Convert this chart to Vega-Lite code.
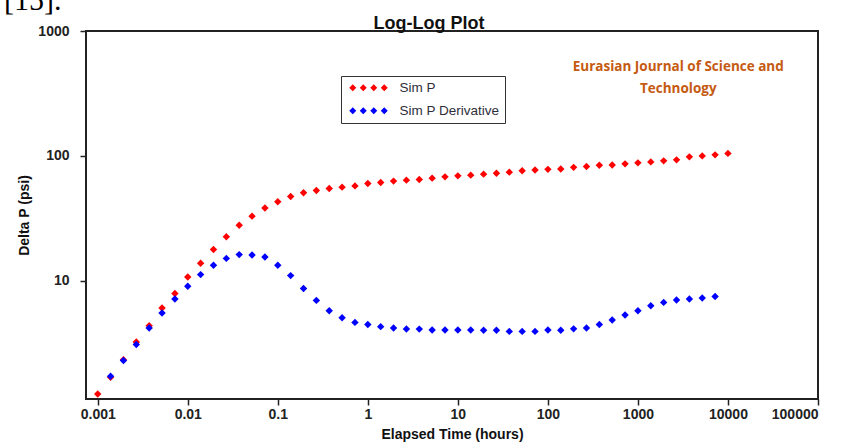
{
  "$schema": "https://vega.github.io/schema/vega-lite/v6.json",
  "width": 732,
  "height": 368,
  "autosize": {"type": "none"},
  "padding": {"left": 86, "top": 31, "right": 25, "bottom": 44},
  "background": "white",
  "title": {
    "text": "Log-Log Plot",
    "frame": "group",
    "anchor": "middle",
    "dx": -23,
    "dy": 65,
    "offset": 4,
    "baseline": "alphabetic",
    "font": "Liberation Sans",
    "fontSize": 18,
    "fontWeight": "bold",
    "color": "#111111"
  },
  "config": {
    "view": {"stroke": "#222222", "strokeWidth": 2},
    "axis": {
      "domain": false,
      "grid": false,
      "tickColor": "#222222",
      "tickSize": 6,
      "tickWidth": 1.5,
      "labelFont": "Liberation Sans",
      "labelFontSize": 14,
      "labelFontWeight": "bold",
      "labelColor": "#222222",
      "titleFont": "Liberation Sans",
      "titleFontSize": 14,
      "titleFontWeight": "bold",
      "titleColor": "#111111"
    }
  },
  "layer": [
    {
      "data": {
        "values": [
          {"t": 0.001, "series": "Sim P", "dp": 1.24},
          {"t": 0.0013895, "series": "Sim P", "dp": 1.69},
          {"t": 0.0019307, "series": "Sim P", "dp": 2.33},
          {"t": 0.0026827, "series": "Sim P", "dp": 3.23},
          {"t": 0.0037276, "series": "Sim P", "dp": 4.37},
          {"t": 0.0051795, "series": "Sim P", "dp": 6.05},
          {"t": 0.0071969, "series": "Sim P", "dp": 7.91},
          {"t": 0.01, "series": "Sim P", "dp": 10.7},
          {"t": 0.013895, "series": "Sim P", "dp": 13.8},
          {"t": 0.019307, "series": "Sim P", "dp": 17.8},
          {"t": 0.026827, "series": "Sim P", "dp": 22.5},
          {"t": 0.037276, "series": "Sim P", "dp": 27.8},
          {"t": 0.051795, "series": "Sim P", "dp": 32.9},
          {"t": 0.071969, "series": "Sim P", "dp": 38.2},
          {"t": 0.1, "series": "Sim P", "dp": 42.9},
          {"t": 0.13895, "series": "Sim P", "dp": 47.3},
          {"t": 0.19307, "series": "Sim P", "dp": 50.6},
          {"t": 0.26827, "series": "Sim P", "dp": 52.8},
          {"t": 0.37276, "series": "Sim P", "dp": 54.8},
          {"t": 0.51795, "series": "Sim P", "dp": 56.2},
          {"t": 0.71969, "series": "Sim P", "dp": 57.5},
          {"t": 1, "series": "Sim P", "dp": 60.0},
          {"t": 1.3895, "series": "Sim P", "dp": 61.2},
          {"t": 1.9307, "series": "Sim P", "dp": 62.8},
          {"t": 2.6827, "series": "Sim P", "dp": 63.9},
          {"t": 3.7276, "series": "Sim P", "dp": 64.6},
          {"t": 5.1795, "series": "Sim P", "dp": 66.3},
          {"t": 7.1969, "series": "Sim P", "dp": 67.9},
          {"t": 10, "series": "Sim P", "dp": 69.2},
          {"t": 13.895, "series": "Sim P", "dp": 70.1},
          {"t": 19.307, "series": "Sim P", "dp": 71.4},
          {"t": 26.827, "series": "Sim P", "dp": 72.7},
          {"t": 37.276, "series": "Sim P", "dp": 74.1},
          {"t": 51.795, "series": "Sim P", "dp": 75.9},
          {"t": 71.969, "series": "Sim P", "dp": 77.0},
          {"t": 100, "series": "Sim P", "dp": 78.0},
          {"t": 138.95, "series": "Sim P", "dp": 78.6},
          {"t": 193.07, "series": "Sim P", "dp": 80.9},
          {"t": 268.27, "series": "Sim P", "dp": 82.1},
          {"t": 372.76, "series": "Sim P", "dp": 84.0},
          {"t": 517.95, "series": "Sim P", "dp": 84.4},
          {"t": 719.69, "series": "Sim P", "dp": 86.3},
          {"t": 1000, "series": "Sim P", "dp": 87.9},
          {"t": 1389.5, "series": "Sim P", "dp": 89.5},
          {"t": 1930.7, "series": "Sim P", "dp": 91.2},
          {"t": 2682.7, "series": "Sim P", "dp": 92.9},
          {"t": 3727.6, "series": "Sim P", "dp": 98.2},
          {"t": 5179.5, "series": "Sim P", "dp": 100.0},
          {"t": 7196.9, "series": "Sim P", "dp": 101.9},
          {"t": 10000, "series": "Sim P", "dp": 104.7},
          {"t": 0.0013895, "series": "Sim P Derivative", "dp": 1.72},
          {"t": 0.0019307, "series": "Sim P Derivative", "dp": 2.30},
          {"t": 0.0026827, "series": "Sim P Derivative", "dp": 3.09},
          {"t": 0.0037276, "series": "Sim P Derivative", "dp": 4.18},
          {"t": 0.0051795, "series": "Sim P Derivative", "dp": 5.51},
          {"t": 0.0071969, "series": "Sim P Derivative", "dp": 7.14},
          {"t": 0.01, "series": "Sim P Derivative", "dp": 9.04},
          {"t": 0.013895, "series": "Sim P Derivative", "dp": 11.2},
          {"t": 0.019307, "series": "Sim P Derivative", "dp": 13.3},
          {"t": 0.026827, "series": "Sim P Derivative", "dp": 15.1},
          {"t": 0.037276, "series": "Sim P Derivative", "dp": 16.2},
          {"t": 0.051795, "series": "Sim P Derivative", "dp": 16.1},
          {"t": 0.071969, "series": "Sim P Derivative", "dp": 15.5},
          {"t": 0.1, "series": "Sim P Derivative", "dp": 13.3},
          {"t": 0.13895, "series": "Sim P Derivative", "dp": 11.0},
          {"t": 0.19307, "series": "Sim P Derivative", "dp": 8.68},
          {"t": 0.26827, "series": "Sim P Derivative", "dp": 6.96},
          {"t": 0.37276, "series": "Sim P Derivative", "dp": 5.75},
          {"t": 0.51795, "series": "Sim P Derivative", "dp": 5.06},
          {"t": 0.71969, "series": "Sim P Derivative", "dp": 4.64},
          {"t": 1, "series": "Sim P Derivative", "dp": 4.47},
          {"t": 1.3895, "series": "Sim P Derivative", "dp": 4.29},
          {"t": 1.9307, "series": "Sim P Derivative", "dp": 4.18},
          {"t": 2.6827, "series": "Sim P Derivative", "dp": 4.11},
          {"t": 3.7276, "series": "Sim P Derivative", "dp": 4.10},
          {"t": 5.1795, "series": "Sim P Derivative", "dp": 4.03},
          {"t": 7.1969, "series": "Sim P Derivative", "dp": 4.03},
          {"t": 10, "series": "Sim P Derivative", "dp": 4.03},
          {"t": 13.895, "series": "Sim P Derivative", "dp": 4.03},
          {"t": 19.307, "series": "Sim P Derivative", "dp": 4.02},
          {"t": 26.827, "series": "Sim P Derivative", "dp": 4.02},
          {"t": 37.276, "series": "Sim P Derivative", "dp": 3.93},
          {"t": 51.795, "series": "Sim P Derivative", "dp": 3.93},
          {"t": 71.969, "series": "Sim P Derivative", "dp": 3.93},
          {"t": 100, "series": "Sim P Derivative", "dp": 4.03},
          {"t": 138.95, "series": "Sim P Derivative", "dp": 4.01},
          {"t": 193.07, "series": "Sim P Derivative", "dp": 4.12},
          {"t": 268.27, "series": "Sim P Derivative", "dp": 4.18},
          {"t": 372.76, "series": "Sim P Derivative", "dp": 4.47},
          {"t": 517.95, "series": "Sim P Derivative", "dp": 4.85},
          {"t": 719.69, "series": "Sim P Derivative", "dp": 5.32},
          {"t": 1000, "series": "Sim P Derivative", "dp": 5.75},
          {"t": 1389.5, "series": "Sim P Derivative", "dp": 6.31},
          {"t": 1930.7, "series": "Sim P Derivative", "dp": 6.71},
          {"t": 2682.7, "series": "Sim P Derivative", "dp": 7.01},
          {"t": 3727.6, "series": "Sim P Derivative", "dp": 7.14},
          {"t": 5179.5, "series": "Sim P Derivative", "dp": 7.27},
          {"t": 7196.9, "series": "Sim P Derivative", "dp": 7.49}
        ]
      },
      "mark": {"type": "point", "filled": true, "shape": "diamond", "size": 55, "opacity": 1},
      "encoding": {
        "x": {
          "field": "t",
          "type": "quantitative",
          "scale": {"type": "log", "domain": [0.000741, 100000], "nice": false},
          "axis": {
            "title": "Elapsed Time (hours)",
            "values": [0.001, 0.01, 0.1, 1, 10, 100, 1000, 10000, 100000],
            "format": "~g",
            "labelPadding": 2.5,
            "titlePadding": 6
          }
        },
        "y": {
          "field": "dp",
          "type": "quantitative",
          "scale": {"type": "log", "domain": [1.13, 1000], "nice": false},
          "axis": {
            "title": "Delta P (psi)",
            "values": [10, 100, 1000],
            "format": "~g",
            "labelPadding": 11,
            "titlePadding": 6
          }
        },
        "color": {
          "field": "series",
          "type": "nominal",
          "scale": {"domain": ["Sim P", "Sim P Derivative"], "range": ["#ff0000", "#0000ff"]},
          "legend": {
            "title": null,
            "orient": "none",
            "legendX": 255,
            "legendY": 45,
            "strokeColor": "#333333",
            "fillColor": "white",
            "padding": 5,
            "rowPadding": 8,
            "symbolType": "M0,-1L1,0L0,1L-1,0Z M3,-1L4,0L3,1L2,0Z M6,-1L7,0L6,1L5,0Z M9,-1L10,0L9,1L8,0Z",
            "symbolSize": 49,
            "symbolStrokeWidth": 0,
            "labelOffset": 40,
            "labelFont": "Liberation Sans",
            "labelFontSize": 13.5,
            "labelColor": "#2e2e3a"
          }
        }
      }
    },
    {
      "data": {"values": [{"note": "Eurasian Journal of Science and\nTechnology"}]},
      "mark": {
        "type": "text",
        "font": "Open Sans",
        "fontWeight": "bold",
        "fontSize": 13.5,
        "color": "#c55a11",
        "align": "center",
        "baseline": "top",
        "lineBreak": "\n",
        "lineHeight": 22
      },
      "encoding": {
        "text": {"field": "note"},
        "x": {"datum": 2805, "type": "quantitative"},
        "y": {"datum": 591, "type": "quantitative"}
      }
    },
    {
      "data": {"values": [{"note": "[15]."}]},
      "mark": {
        "type": "text",
        "font": "Liberation Serif",
        "fontSize": 30,
        "color": "#000000",
        "align": "left",
        "baseline": "alphabetic"
      },
      "encoding": {
        "text": {"field": "note"},
        "x": {"datum": 0.000091, "type": "quantitative"},
        "y": {"datum": 1472, "type": "quantitative"}
      }
    }
  ]
}
